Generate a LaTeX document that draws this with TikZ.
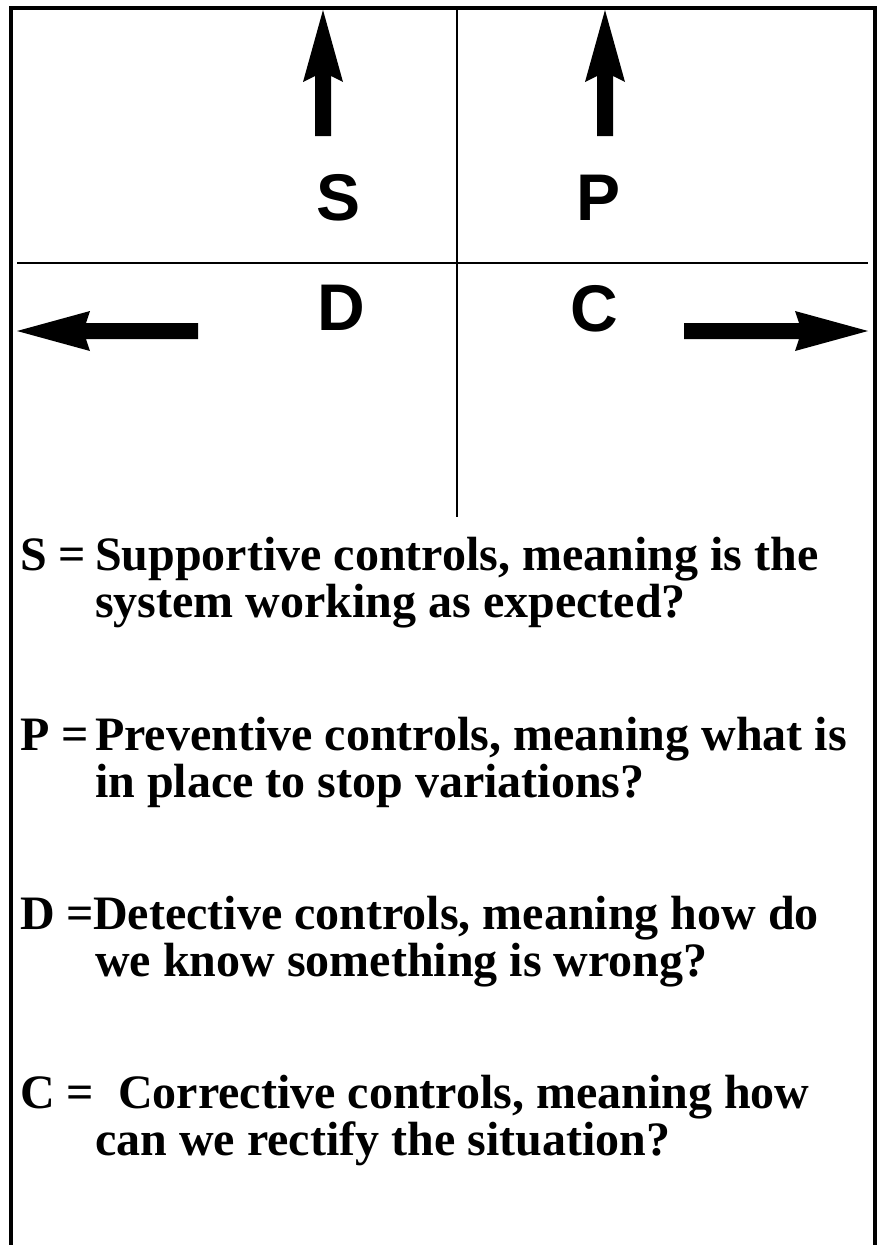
\documentclass[tikz,border=0pt]{standalone}
\usepackage{fontspec}
\setmainfont{Liberation Serif}
\newfontfamily\hvsans{Liberation Sans}
\begin{document}
\begin{tikzpicture}[x=1pt,y=-1pt,
  frame/.style={line width=4pt},
  divider/.style={line width=2.5pt},
  bigletter/.style={font=\hvsans\bfseries\fontsize{66}{66}\selectfont, inner sep=0pt, anchor=base},
  lbl/.style={font=\bfseries\fontsize{48}{48}\selectfont, inner sep=0pt, anchor=base west},
  arrowfill/.style={fill=black}]
\useasboundingbox (0,0) rectangle (881,1245);
% frame (open at bottom)
\draw[frame] (11,1260) -- (11,7.5) -- (875,7.5) -- (875,1260);
% dividers
\coordinate (vtop) at (457,7.5);
\coordinate (vbot) at (457,517);
\coordinate (hl) at (17,263);
\coordinate (hr) at (868,263);
\draw[divider] (vtop) -- (vbot);
\draw[divider] (hl) -- (hr);
% up arrows
\foreach \cx in {323,605}{
  \fill[arrowfill] (\cx,10) -- (\cx+20,82) -- (\cx+8,76) -- (\cx+8,136) -- (\cx-8,136) -- (\cx-8,76) -- (\cx-20,82) -- cycle;
}
% left arrow
\fill[arrowfill] (17,331) -- (90,311) -- (86,323) -- (198,323) -- (198,339) -- (86,339) -- (90,351) -- cycle;
% right arrow
\fill[arrowfill] (868,331) -- (795,311) -- (799,323) -- (684,323) -- (684,339) -- (799,339) -- (795,351) -- cycle;
% quadrant letters
\node[bigletter] (S) at (339,220) {S};
\node[bigletter] (P) at (599,220) {P};
\node[bigletter] (D) at (341,330) {D};
\node[bigletter] (C) at (594,331) {C};
% legend
\node[lbl] (s0) at (20,570) {S =};
\node[lbl] (s1) at (95,570) {Supportive controls, meaning is the};
\node[lbl] (s2) at (95,617) {system working as expected?};
\node[lbl] (p0) at (20,750) {P =};
\node[lbl] (p1) at (95,750) {Preventive controls, meaning what is};
\node[lbl] (p2) at (95,797) {in place to stop variations?};
\node[lbl] (d0) at (20,929) {D =};
\node[lbl] (d1) at (93,929) {Detective controls, meaning how do};
\node[lbl] (d2) at (95,976) {we know something is wrong?};
\node[lbl] (c0) at (20,1108) {C =};
\node[lbl] (c1) at (118,1108) {Corrective controls, meaning how};
\node[lbl] (c2) at (95,1155) {can we rectify the situation?};
\end{tikzpicture}
\end{document}
